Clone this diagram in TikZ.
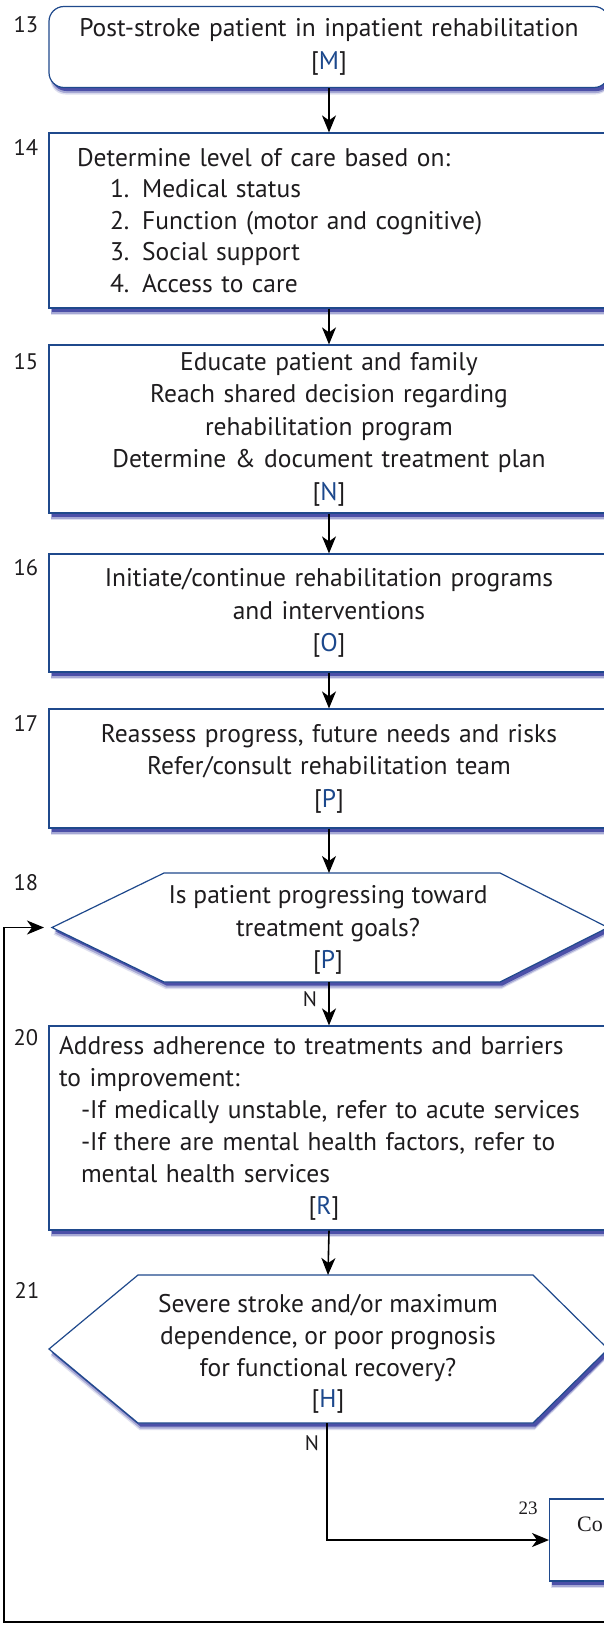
\documentclass[tikz,border=0pt]{standalone}
\usepackage{fontspec}
\setmainfont{PT Sans}
\newfontfamily\serifface{Liberation Serif}
\usetikzlibrary{arrows.meta,shadows}
\definecolor{bord}{RGB}{31,73,140}
\definecolor{refc}{RGB}{28,72,140}
\definecolor{shblue}{RGB}{38,44,150}
\definecolor{ink}{RGB}{30,28,30}
\newcommand{\rf}[1]{[\textcolor{refc}{#1}]}
\tikzset{
  shd/.style={
    general shadow={shadow xshift=1.5pt,shadow yshift=-7pt,fill=shblue,opacity=0.15},
    general shadow={shadow xshift=2pt,shadow yshift=-5.5pt,fill=shblue,opacity=0.3},
    general shadow={shadow xshift=2.5pt,shadow yshift=-3.5pt,fill=shblue,opacity=0.7}},
  box/.style={draw=bord, line width=1.2pt, fill=white, shd, inner sep=0pt,
    minimum width=560pt, text=ink, font=\fontsize{25.5}{32.5}\selectfont},
  hexs/.style={draw=bord, line width=1.2pt, fill=white, shd},
  txt/.style={inner sep=0pt, text=ink, font=\fontsize{25.5}{32.5}\selectfont},
  num/.style={inner sep=0pt, text=ink, font=\fontsize{22.5}{24}\selectfont},
  arr/.style={draw=black, line width=1.6pt, -{Stealth[length=17pt,width=14pt,inset=5pt]}},
}
\begin{document}
\begin{tikzpicture}[x=1pt,y=-1pt]
\useasboundingbox (0,0) rectangle (604,1625);
\clip (0,0) rectangle (604,1625);
\fill[white] (0,0) rectangle (604,1625);

% boxes
\node[box, rounded corners=15pt, minimum height=81pt, text width=540pt, align=center] (b13) at (329,47)
  {Post-stroke patient in inpatient rehabilitation\\\rf{M}};
\node[box, minimum height=175pt, text width=504pt, align=left, font=\fontsize{25.5}{31.5}\selectfont] (b14) at (329,220.5)
  {Determine level of care based on:\\
   \hspace*{33pt}1. Medical status\\
   \hspace*{33pt}2. Function (motor and cognitive)\\
   \hspace*{33pt}3. Social support\\
   \hspace*{33pt}4. Access to care};
\node[box, minimum height=168pt, text width=540pt, align=center] (b15) at (329,429)
  {Educate patient and family\\Reach shared decision regarding\\rehabilitation program\\Determine \& document treatment plan\\\rf{N}};
\node[box, minimum height=118pt, text width=540pt, align=center] (b16) at (329,613)
  {Initiate/continue rehabilitation programs\\and interventions\\\rf{O}};
\node[box, minimum height=119pt, text width=540pt, align=center] (b17) at (329,768.5)
  {Reassess progress, future needs and risks\\Refer/consult rehabilitation team\\\rf{P}};

% hexagon 18
\draw[hexs] (52,927.5) -- (164,873) -- (500,873) -- (608,927.5) -- (500,982) -- (164,982) -- cycle;
\coordinate (h18n) at (329,873);
\coordinate (h18s) at (329,982);
\coordinate (h18w) at (52,927.5);
\node[txt, align=center] (q18) at (328,930) {Is patient progressing toward\\treatment goals?\\\rf{P}};

\node[box, minimum height=204pt, text width=540pt, align=left, font=\fontsize{25.5}{32}\selectfont] (b20) at (329,1128)
  {Address adherence to treatments and barriers\\
   to improvement:\\
   \hspace*{22pt}-If medically unstable, refer to acute services\\
   \hspace*{22pt}-If there are mental health factors, refer to\\
   \hspace*{22pt}mental health services\\
   \hbox to\hsize{\hss\rf{R}\hskip10pt\hss}};

% hexagon 21
\draw[hexs] (49,1349) -- (138,1275) -- (533,1275) -- (608,1349) -- (533,1423) -- (138,1423) -- cycle;
\coordinate (h21n) at (328,1275);
\coordinate (h21s) at (327,1423);
\node[txt, align=center, font=\fontsize{25.5}{31.7}\selectfont] (q21) at (328,1354)
  {Severe stroke and/or maximum\\dependence, or poor prognosis\\for functional recovery?\\\rf{H}};

% box 23
\node[box, minimum width=200pt, minimum height=82pt, anchor=west] (b23) at (549,1540) {};
\node[inner sep=0pt, anchor=base west, text=ink, font=\serifface\fontsize{22}{28}\selectfont] (t23) at (577,1531) {Co};
\node[inner sep=0pt, text=ink, font=\serifface\fontsize{19}{22}\selectfont] (l23) at (528,1508) {23};

% step numbers
\node[num] (l13) at (26,25) {13};
\node[num] (l14) at (26,147) {14};
\node[num] (l15) at (26,362) {15};
\node[num] (l16) at (26,568) {16};
\node[num] (l17) at (26,723) {17};
\node[num] (l18) at (26,883) {18};
\node[num] (l20) at (26,1038) {20};
\node[num] (l21) at (27,1290) {21};

% N labels
\node[num, font=\fontsize{21}{24}\selectfont] (n18) at (310,999) {N};
\node[num, font=\fontsize{21}{24}\selectfont] (n21) at (312,1443) {N};

% connectors
\draw[arr] (b13.south) -- (b14.north);
\draw[arr] (b14.south) -- (b15.north);
\draw[arr] (b15.south) -- (b16.north);
\draw[arr] (b16.south) -- (b17.north);
\draw[arr] (b17.south) -- (h18n);
\draw[arr] (h18s) -- (b20.north);
\draw[arr] (b20.south) -- (h21n);
\draw[arr] (h21s) |- (b23.west);
\coordinate (loopR) at (620,1622);
\coordinate (loopC) at (4,1600);
\draw[arr, shorten >=8pt] (loopR) -| (loopC) |- (h18w);
\end{tikzpicture}
\end{document}
